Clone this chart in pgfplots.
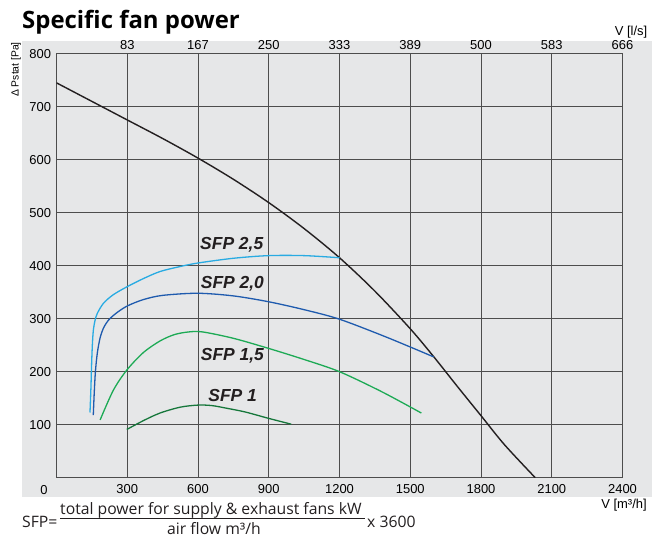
\documentclass[border=0pt]{standalone}
\usepackage{pgfplots}
\pgfplotsset{compat=1.18}
\usepackage{fontspec}
\setmainfont{Open Sans}
\newfontfamily\ticksf{Liberation Sans}

\definecolor{bgc}{HTML}{E6E7E8}
\definecolor{gridc}{HTML}{4D4D4D}
\definecolor{fanc}{HTML}{231F20}
\definecolor{sfpA}{HTML}{29ABE2}
\definecolor{sfpB}{HTML}{1F5BAE}
\definecolor{sfpC}{HTML}{1DAA55}
\definecolor{sfpD}{HTML}{16773B}

\begin{document}
\begin{tikzpicture}[x=1bp,y=1bp]
\useasboundingbox (0,0) rectangle (652,538);
% grey panel behind the chart
\fill[bgc] (22,41) rectangle (652,497);

\begin{axis}[
  at={(56.5bp,60.3bp)}, anchor=south west,
  scale only axis, width=566bp, height=424bp,
  xmin=0, xmax=2400, ymin=0, ymax=800,
  xtick={300,600,...,2400}, ytick={100,200,...,800},
  grid=major,
  major grid style={draw=gridc, line width=1bp},
  axis line style={draw=gridc, line width=1bp},
  tick style={draw=none},
  ticklabel style={font=\fontsize{13}{15}\selectfont\ticksf},
  /pgf/number format/assume math mode=true,
  /pgf/number format/1000 sep={},
  xticklabel style={yshift=-3.4bp},
  yticklabel style={xshift=-2bp},
  clip mode=individual,
]
% fan curve
\addplot[fanc, line width=1.4bp, smooth] coordinates {
  (0,745) (150,710) (300,675) (450,640) (600,603) (750,563) (900,519)
  (1050,470) (1200,415) (1350,352) (1500,281) (1600,228) (1700,172)
  (1800,117) (1900,62) (2030,0)
};
% SFP 2,5
\addplot[sfpA, line width=1.3bp, smooth] coordinates {
  (142,123) (146,170) (149,216) (152,250) (156,277) (163,296) (173,310)
  (199,329) (240,345) (298,360) (370,376) (439,389) (520,398) (599,405)
  (750,414) (899,419) (1050,419) (1200,415)
};
% SFP 2,0
\addplot[sfpB, line width=1.3bp, smooth] coordinates {
  (156,118) (160,160) (165,200) (173,235) (185,264) (200,283) (222,298)
  (255,311) (300,324) (368,336) (450,344) (599,348) (750,343) (899,332)
  (1050,317) (1200,299) (1400,265) (1599,228)
};
% SFP 1,5
\addplot[sfpC, line width=1.3bp, smooth] coordinates {
  (185,109) (241,165) (298,203) (368,236) (439,258) (500,270) (560,275)
  (620,275) (750,263) (899,244) (1050,223) (1200,200) (1380,162) (1547,122)
};
% SFP 1
\addplot[sfpD, line width=1.3bp, smooth] coordinates {
  (298,91) (370,108) (439,122) (524,133) (600,137) (660,136) (722,131)
  (800,124) (899,112) (995,101)
};

\begin{scope}[font=\fontsize{17.5}{20}\selectfont\ticksf\bfseries\itshape, text=fanc]
\node at (axis cs:743,440) {SFP 2,5};
\node at (axis cs:746,365) {SFP 2,0};
\node at (axis cs:746,231) {SFP 1,5};
\node at (axis cs:747,155) {SFP 1};
\end{scope}

\begin{scope}[font=\fontsize{13}{15}\selectfont\ticksf, inner sep=0pt, yshift=3.7bp]
\node[anchor=south] at (axis cs:300,800) {83};
\node[anchor=south] at (axis cs:600,800) {167};
\node[anchor=south] at (axis cs:900,800) {250};
\node[anchor=south] at (axis cs:1200,800) {333};
\node[anchor=south] at (axis cs:1500,800) {389};
\node[anchor=south] at (axis cs:1800,800) {500};
\node[anchor=south] at (axis cs:2100,800) {583};
\node[anchor=south] at (axis cs:2400,800) {666};
\end{scope}
\end{axis}

% corner zero, axis names
\node[font=\fontsize{13}{15}\selectfont\ticksf, inner sep=0pt] at (44,48) {0};
\node[font=\fontsize{10.4}{12}\selectfont\ticksf, inner sep=0pt, rotate=90] at (16,468.5) {Δ Pstat [Pa]};
\node[font=\fontsize{13}{15}\selectfont\ticksf, inner sep=0pt] at (631,506) {V [l/s]};
\node[font=\fontsize{13}{15}\selectfont\ticksf, inner sep=0pt] at (624,33) {V [m³/h]};

% title
\node[font=\fontsize{24}{28}\selectfont\bfseries, inner sep=0pt, anchor=base west] at (22,509.7) {Specific fan power};

% formula
\begin{scope}[font=\fontsize{15.8}{18}\selectfont, inner sep=0pt, text=fanc]
\node[anchor=base west] at (22,10) {SFP=};
\node[anchor=base west] at (60,23.3) {total power for supply \& exhaust fans kW};
\draw[fanc, line width=0.9bp] (60,19.3) -- (365,19.3);
\node[anchor=base west] at (167,3) {air flow m³/h};
\node[anchor=base west] at (367,10) {x 3600};
\end{scope}
\end{tikzpicture}
\end{document}
